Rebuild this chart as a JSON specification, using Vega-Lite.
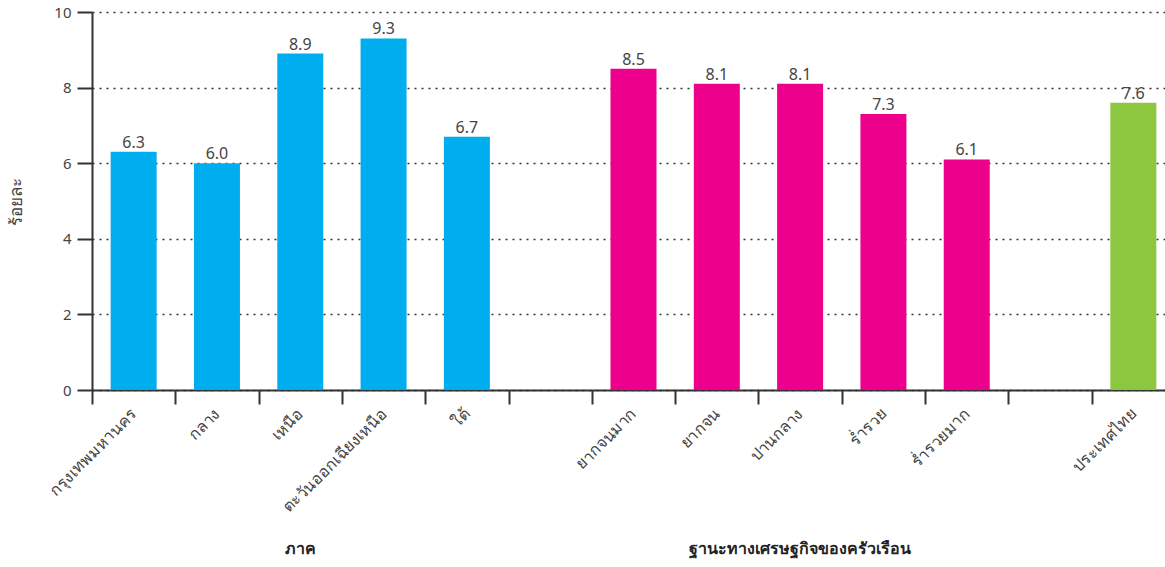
{
  "$schema": "https://vega.github.io/schema/vega-lite/v6.json",
  "width": 1083,
  "height": 378,
  "autosize": {"type": "none"},
  "padding": {"left": 92, "top": 12, "right": 0, "bottom": 177},
  "config": {
    "view": {"stroke": null},
    "font": "Noto Sans"
  },
  "data": {
    "values": [
      {"cat": "กรุงเทพมหานคร", "value": 6.3, "group": "region"},
      {"cat": "กลาง", "value": 6.0, "group": "region"},
      {"cat": "เหนือ", "value": 8.9, "group": "region"},
      {"cat": "ตะวันออกเฉียงเหนือ", "value": 9.3, "group": "region"},
      {"cat": "ใต้", "value": 6.7, "group": "region"},
      {"cat": "ยากจนมาก", "value": 8.5, "group": "econ"},
      {"cat": "ยากจน", "value": 8.1, "group": "econ"},
      {"cat": "ปานกลาง", "value": 8.1, "group": "econ"},
      {"cat": "ร่ำรวย", "value": 7.3, "group": "econ"},
      {"cat": "ร่ำรวยมาก", "value": 6.1, "group": "econ"},
      {"cat": "ประเทศไทย", "value": 7.6, "group": "total"}
    ]
  },
  "encoding": {
    "x": {
      "field": "cat",
      "type": "nominal",
      "sort": null,
      "scale": {
        "domain": ["กรุงเทพมหานคร", "กลาง", "เหนือ", "ตะวันออกเฉียงเหนือ", "ใต้", " ", "ยากจนมาก", "ยากจน", "ปานกลาง", "ร่ำรวย", "ร่ำรวยมาก", "  ", "ประเทศไทย"],
        "paddingInner": 0,
        "paddingOuter": 0
      },
      "axis": {
        "title": null,
        "labelAngle": -45,
        "labelAlign": "right",
        "labelBaseline": "middle",
        "labelFontSize": 16,
        "labelColor": "#444444",
        "labelPadding": 7,
        "tickBand": "extent",
        "tickSize": 14,
        "tickWidth": 2,
        "tickColor": "#333333",
        "domainColor": "#333333",
        "domainWidth": 2,
        "grid": false
      }
    }
  },
  "layer": [
    {
      "mark": {"type": "bar", "size": 46},
      "encoding": {
        "y": {
          "field": "value",
          "type": "quantitative",
          "scale": {"domain": [0, 10], "clamp": false, "nice": false},
          "axis": {
            "title": "ร้อยละ",
            "titleFontSize": 17,
            "titleFontWeight": "normal",
            "titleColor": "#444444",
            "titlePadding": 28,
            "values": [0, 2, 4, 6, 8, 10],
            "labelFontSize": 15,
            "labelColor": "#444444",
            "labelPadding": 6,
            "tickSize": 15,
            "tickWidth": 2,
            "tickColor": "#333333",
            "domainColor": "#333333",
            "domainWidth": 2,
            "grid": true,
            "gridColor": "#333333",
            "gridDash": [2, 5],
            "gridWidth": 1.5
          }
        },
        "color": {
          "field": "group",
          "type": "nominal",
          "scale": {"domain": ["region", "econ", "total"], "range": ["#00AEEF", "#EC008C", "#8DC63F"]},
          "legend": null
        }
      }
    },
    {
      "mark": {"type": "text", "baseline": "bottom", "dy": -1, "fontSize": 16, "color": "#444444"},
      "encoding": {
        "y": {"field": "value", "type": "quantitative"},
        "text": {"field": "value", "type": "quantitative", "format": ".1f"}
      }
    },
    {
      "data": {"values": [{"cat": "เหนือ", "title": "ภาค"}, {"cat": "ปานกลาง", "title": "ฐานะทางเศรษฐกิจของครัวเรือน"}]},
      "mark": {"type": "text", "fontSize": 16, "fontWeight": "bold", "color": "#222222", "baseline": "middle", "clip": false},
      "encoding": {
        "y": {"datum": -4.2, "type": "quantitative"},
        "text": {"field": "title", "type": "nominal"}
      }
    }
  ]
}
